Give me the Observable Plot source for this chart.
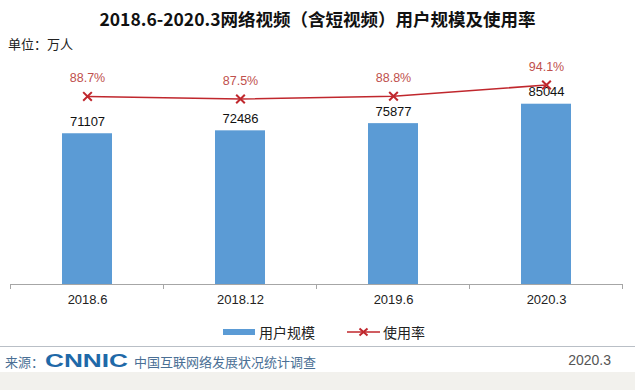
<!DOCTYPE html>
<html>
<head>
<meta charset="utf-8">
<script src="https://cdn.jsdelivr.net/npm/d3@7"></script>
<script src="https://cdn.jsdelivr.net/npm/@observablehq/plot@0.6"></script>
<style>
  html, body { margin: 0; padding: 0; background: #fff; }
  body { width: 635px; height: 390px; position: relative; overflow: hidden;
         font-family: "Noto Sans CJK SC", "Liberation Sans", sans-serif; }
  .abs { position: absolute; white-space: nowrap; }
  #title { top: 6px; left: 0; width: 635px; text-align: center; font-size: 17.5px; font-weight: bold; color: #111; }
  #unit { top: 34px; left: 8px; font-size: 13px; color: #222; }
  #chart { position: absolute; top: 60px; left: 0; }
  #legend { top: 322px; left: 0; width: 635px; font-size: 14px; color: #222; }
  #footline { top: 346px; left: 0; width: 635px; height: 1px; background: #b9bfc6; }
  #band { top: 372px; left: 0; width: 635px; height: 18px; background: #f2f1ed; }
  #src { top: 351px; left: 5px; font-size: 13px; color: #4a6f95; display: flex; align-items: center; height: 20px; }
  #logobox { display: inline-block; width: 84px; height: 20px; position: relative; margin-left: 1px; }
  #logo { position: absolute; left: 0; top: -1px; font-family: "Liberation Sans", Arial, sans-serif; font-weight: bold;
          font-size: 19px; line-height: 22px; color: #1f69a8; transform: scaleX(1.38); transform-origin: left center; }
  #date { top: 352px; right: 24px; font-size: 14px; color: #555; font-family: "Liberation Sans", sans-serif; }
</style>
</head>
<body>
<div id="title" class="abs">2018.6-2020.3网络视频（含短视频）用户规模及使用率</div>
<div id="unit" class="abs">单位：万人</div>
<div id="chart"></div>
<div id="legend" class="abs"></div>
<div id="footline" class="abs"></div>
<div id="band" class="abs"></div>
<div id="src" class="abs"><span>来源：</span><span id="logobox"><span id="logo">CNNIC</span></span><span style="margin-left:5px">中国互联网络发展状况统计调查</span></div>
<div id="date" class="abs">2020.3</div>
<script>
// ---- data ----
const periods = ["2018.6", "2018.12", "2019.6", "2020.3"];
const users = [71107, 72486, 75877, 85044];   // 用户规模（万人）
const rates = [88.7, 87.5, 88.8, 94.1];       // 使用率（%）
const seriesNames = ["用户规模", "使用率"];

const blue = "#5b9bd5";
const red = "#c0272d";
const redText = "#c0504d";

const data = periods.map((p, i) => ({period: p, users: users[i], rate: rates[i]}));
const rateToY = d => d.rate * 1000; // secondary axis sharing the same pixel scale (0–100% ↔ 0–100000)

const W = 635, H = 255, ml = 10, mr = 12, mt = 12, mb = 31;
const pInner = 0.67, pOuter = 0.335;

const plot = Plot.plot({
  width: W, height: H,
  marginLeft: ml, marginRight: mr, marginTop: mt, marginBottom: mb,
  style: {fontFamily: "'Liberation Sans', 'Noto Sans CJK SC', sans-serif", background: "transparent", overflow: "visible"},
  x: {domain: periods, paddingInner: pInner, paddingOuter: pOuter, label: null},
  y: {domain: [0, 100000], axis: null},
  marks: [
    Plot.barY(data, {x: "period", y: "users", fill: blue}),
    Plot.ruleY([0], {stroke: "#a6a6a6", strokeWidth: 1}),
    Plot.axisX({tickSize: 0, tickPadding: 10, fontSize: 13, fill: "#222", label: null}),
    Plot.text(data, {x: "period", y: "users", text: d => String(d.users), dy: -12, fontSize: 13, fill: "#111"}),
    Plot.line(data, {x: "period", y: rateToY, stroke: red, strokeWidth: 1.6}),
    Plot.dot(data, {x: "period", y: rateToY, symbol: "times", r: 4, stroke: red, strokeWidth: 2}),
    Plot.text(data, {x: "period", y: rateToY, text: d => d.rate.toFixed(1) + "%", dy: -18, fontSize: 12.5, fill: redText})
  ]
});
document.getElementById("chart").appendChild(plot);

// tick marks at band boundaries on the category axis
const xs = plot.scale("x");
const step = xs.step ?? (W - ml - mr) / (periods.length - pInner + 2 * pOuter);
const bw = xs.bandwidth ?? step * (1 - pInner);
const center = p => (xs.apply ? xs.apply(p) : 0) + bw / 2;
const svg = d3.select(plot);
const y0 = H - mb;
const bounds = periods.map(p => center(p) - step / 2).concat([center(periods[periods.length - 1]) + step / 2]);
svg.append("g").selectAll("line").data(bounds).join("line")
  .attr("x1", d => d).attr("x2", d => d).attr("y1", y0).attr("y2", y0 + 5)
  .attr("stroke", "#a6a6a6");

// legend
const leg = d3.select("#legend");
const item1 = leg.append("div").attr("class", "abs").style("left", "223px").style("top", "0px")
  .style("display", "flex").style("align-items", "center");
item1.append("span").style("display", "inline-block").style("width", "32px").style("height", "6px")
  .style("background", blue).style("margin-right", "4px");
item1.append("span").text(seriesNames[0]);
const item2 = leg.append("div").attr("class", "abs").style("left", "347px").style("top", "0px")
  .style("display", "flex").style("align-items", "center");
const sw = item2.append("svg").attr("width", 33).attr("height", 12).style("margin-right", "3px");
sw.append("line").attr("x1", 0).attr("x2", 33).attr("y1", 6).attr("y2", 6).attr("stroke", red).attr("stroke-width", 1.6);
sw.append("path").attr("d", "M12.5,2.5L20.5,9.5M20.5,2.5L12.5,9.5").attr("stroke", red).attr("stroke-width", 2);
item2.append("span").text(seriesNames[1]);
</script>
</body>
</html>
